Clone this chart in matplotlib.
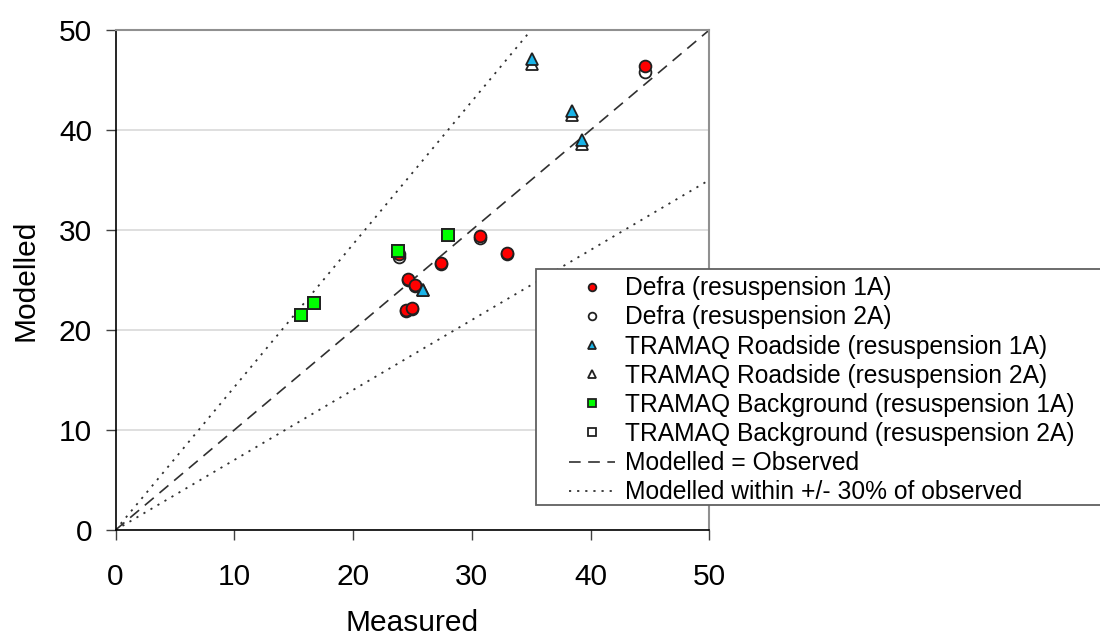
import matplotlib
matplotlib.use('Agg')
import matplotlib.pyplot as plt
from matplotlib.patches import Rectangle
import numpy as np

# measured vs modelled values
defra_meas = [44.55, 30.7, 33.0, 27.4, 24.65, 25.25, 24.45, 25.0, 23.85]
defra_1a = [46.4, 29.4, 27.7, 26.7, 25.1, 24.55, 22.0, 22.2, 27.6]
defra_2a = [45.8, 29.25, 27.6, 26.6, 25.0, 24.45, 21.9, 22.1, 27.35]

road_meas = [35.05, 38.4, 39.3, 25.9]
road_1a = [47.1, 41.9, 39.0, 24.05]
road_2a = [46.65, 41.5, 38.6, 24.0]

bg_meas = [15.6, 16.7, 23.8, 28.0]
bg_1a = [21.5, 22.75, 27.95, 29.55]
bg_2a = [21.5, 22.75, 27.95, 29.55]

labels = ['Defra (resuspension 1A)', 'Defra (resuspension 2A)',
          'TRAMAQ Roadside (resuspension 1A)', 'TRAMAQ Roadside (resuspension 2A)',
          'TRAMAQ Background (resuspension 1A)', 'TRAMAQ Background (resuspension 2A)',
          'Modelled = Observed', 'Modelled within +/- 30% of observed']

plt.rcParams['font.family'] = ['Liberation Sans', 'DejaVu Sans']

fig = plt.figure(figsize=(11, 6.38), dpi=100)
W, H = 1100.0, 638.0
ax = fig.add_axes([115.5 / W, 1 - 530 / H, (709.3 - 115.5) / W, 500 / H])

ax.set_xlim(0, 50)
ax.set_ylim(0, 50)

ax.yaxis.grid(True, color='#d9d9d9', linewidth=1.2, zorder=0)
ax.set_axisbelow(True)

# reference lines
xl = np.array([0, 50])
l1, = ax.plot(xl, xl, color='#303030', lw=1.2, dashes=(7, 4.5), zorder=2)
l2, = ax.plot(xl, xl / 0.7, color='#303030', lw=1.3, dashes=(1.2, 3.3), zorder=2)
ax.plot(xl, xl * 0.7, color='#303030', lw=1.3, dashes=(1.2, 3.3), zorder=2)

mk = dict(ls='none', markeredgecolor='#202020', markeredgewidth=1.3)
d2, = ax.plot(defra_meas, defra_2a, marker='o', ms=8.5, mfc='white', zorder=3, **mk)
d1, = ax.plot(defra_meas, defra_1a, marker='o', ms=8.5, mfc='#ff0000', zorder=4, **mk)
r2, = ax.plot(road_meas, road_2a, marker='^', ms=9, mfc='white', zorder=3, **mk)
r1, = ax.plot(road_meas, road_1a, marker='^', ms=9, mfc='#1ab4e8', zorder=4, **mk)
b2, = ax.plot(bg_meas, bg_2a, marker='s', ms=8.5, mfc='white', zorder=3, **mk)
b1, = ax.plot(bg_meas, bg_1a, marker='s', ms=8.5, mfc='#00ff00', zorder=5, **mk)

ax.set_xticks(range(0, 51, 10))
ax.set_yticks(range(0, 51, 10))
ax.tick_params(direction='out', length=7, width=1, color='#404040',
               labelsize=21.5, pad=10)
ax.tick_params(axis='x', pad=17)

for s in ['left', 'bottom']:
    ax.spines[s].set_color('black')
    ax.spines[s].set_linewidth(1.2)
for s in ['top', 'right']:
    ax.spines[s].set_color('#909090')
    ax.spines[s].set_linewidth(1.5)

ax.set_xlabel('Measured', fontsize=21.5, labelpad=13)
ax.set_ylabel('Modelled', fontsize=21.5, labelpad=14)

# legend box, it runs off the right edge in the original
fig.patches.append(Rectangle((536 / W, 1 - 505 / H), 600 / W, 236 / H,
                             transform=fig.transFigure, facecolor='white',
                             edgecolor='#606060', lw=1.3, zorder=6))
leg = fig.legend([d1, d2, r1, r2, b1, b2, l1, l2], labels,
                 loc='upper left', bbox_to_anchor=(552 / W, 1 - 259 / H),
                 frameon=False, fontsize=17.7, markerscale=0.65,
                 handlelength=1.85, handletextpad=0.4, labelspacing=0.21,
                 borderpad=0.2)
leg.set_zorder(7)

plt.savefig('out.png', dpi=100, facecolor='w')
